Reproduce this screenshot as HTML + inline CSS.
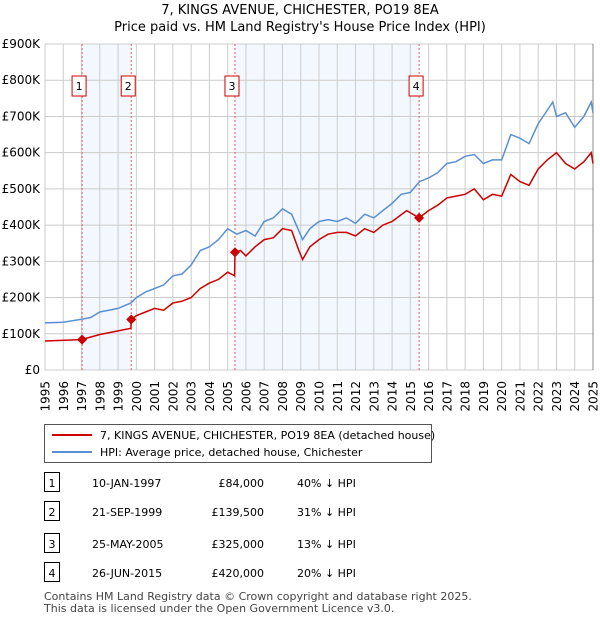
<!DOCTYPE html>
<html><head><meta charset="utf-8"><style>
body{margin:0;background:#fff;font-family:"Liberation Sans","DejaVu Sans",sans-serif;}
svg text{font-family:"DejaVu Sans","Liberation Sans",sans-serif;}
</style></head><body>
<svg width="600" height="620" xmlns="http://www.w3.org/2000/svg">
<g id="root"></g>
</svg>
<script>
const hpiYears=[1995,1996,1997,1997.5,1998,1999,1999.7,2000,2000.5,2001,2001.5,2002,2002.5,2003,2003.5,2004,2004.5,2005,2005.5,2006,2006.5,2007,2007.5,2008,2008.5,2009.1,2009.5,2010,2010.5,2011,2011.5,2012,2012.5,2013,2013.5,2014,2014.5,2015,2015.5,2016,2016.5,2017,2017.5,2018,2018.5,2019,2019.5,2020,2020.5,2021,2021.5,2022,2022.8,2023,2023.5,2024,2024.5,2024.9,2025];
const hpiValues=[130,132,140,145,160,170,185,200,215,225,235,260,265,290,330,340,360,390,375,385,370,410,420,445,430,360,390,410,415,410,420,405,430,420,440,460,485,490,520,530,545,570,575,590,595,570,580,580,650,640,625,680,740,700,710,670,700,740,710];
const redYears=[1995,1997,1998,1999,1999.7,1999.72,2000,2000.5,2001,2001.5,2002,2002.5,2003,2003.5,2004,2004.5,2005,2005.38,2005.4,2005.7,2006,2006.5,2007,2007.5,2008,2008.5,2008.9,2009.1,2009.5,2010,2010.5,2011,2011.5,2012,2012.5,2013,2013.5,2014,2014.8,2015.48,2016,2016.5,2017,2017.5,2018,2018.5,2019,2019.5,2020,2020.5,2021,2021.5,2022,2022.5,2023,2023.5,2024,2024.5,2024.9,2025];
const redValues=[80,84,98,108,115,139.5,150,160,170,165,185,190,200,225,240,250,270,260,325,330,315,340,360,365,390,385,330,305,340,360,375,380,380,370,390,380,400,410,440,420,440,455,475,480,485,500,470,485,480,540,520,510,555,580,600,570,555,575,600,570];
const saleYears=[1997.03,1999.72,2005.4,2015.48];
const saleValues=[84,139.5,325,420];
const saleLabels=["1","2","3","4"];
const yTicks=[0,100,200,300,400,500,600,700,800,900];
const yTickLabels=["£0","£100K","£200K","£300K","£400K","£500K","£600K","£700K","£800K","£900K"];
const xTicks=[1995,1996,1997,1998,1999,2000,2001,2002,2003,2004,2005,2006,2007,2008,2009,2010,2011,2012,2013,2014,2015,2016,2017,2018,2019,2020,2021,2022,2023,2024,2025];

const X0=45,X1=593,Y0=370,Y1=44;
const xs=v=>X0+(v-1995)/30*(X1-X0);
const ys=v=>Y0-v/900*(Y0-Y1);
const NS="http://www.w3.org/2000/svg";
const root=document.getElementById('root');
function mk(t,a,p){const e=document.createElementNS(NS,t);for(const k in a)e.setAttribute(k,a[k]);(p||root).appendChild(e);return e;}

let t=mk('text',{x:300,y:14,'text-anchor':'middle','font-size':13,fill:'#000'});t.textContent="7, KINGS AVENUE, CHICHESTER, PO19 8EA";

t=mk('text',{x:300,y:31,'text-anchor':'middle','font-size':13,fill:'#000'});t.textContent="Price paid vs. HM Land Registry's House Price Index (HPI)";


[[0,1],[2,3]].forEach(([a,b])=>{const r=mk('rect',{x:xs(saleYears[a]),y:Y1,width:xs(saleYears[b])-xs(saleYears[a]),height:Y0-Y1,fill:'#eef3fd',opacity:0.7});
});
xTicks.forEach(v=>{const l=mk('line',{x1:xs(v),x2:xs(v),y1:Y1,y2:Y0,stroke:'#cccccc','stroke-width':1});

const x=xs(v)+4.5,y=381;
const tx=mk('text',{x:x,y:y,'text-anchor':'end','font-size':12,fill:'#000',transform:`rotate(-90 ${x} ${y})`});tx.textContent=v;
});
yTicks.forEach((v,i)=>{const l=mk('line',{x1:X0,x2:X1,y1:ys(v),y2:ys(v),stroke:'#cccccc','stroke-width':1});

const tx=mk('text',{x:40,y:ys(v)+4,'text-anchor':'end','font-size':12,fill:'#000'});tx.textContent=yTickLabels[i];
});
let ax=mk('line',{x1:X1,x2:X1,y1:Y1,y2:Y0,stroke:'#888','stroke-width':1});

saleYears.forEach(v=>{const l=mk('line',{x1:xs(v),x2:xs(v),y1:Y1,y2:Y0,stroke:'#e06060','stroke-width':1,'stroke-dasharray':'2,2'});
});
const pts=(a,b)=>a.map((v,i)=>xs(v).toFixed(1)+','+ys(b[i]).toFixed(1)).join(' ');
let pl=mk('polyline',{points:pts(hpiYears,hpiValues),fill:'none',stroke:'#5b8fd4','stroke-width':1.5});

pl=mk('polyline',{points:pts(redYears,redValues),fill:'none',stroke:'#cc0000','stroke-width':1.5});

saleYears.forEach((v,i)=>{const x=xs(v),y=ys(saleValues[i]);
const d=mk('polygon',{points:`${x},${y-5} ${x+5},${y} ${x},${y+5} ${x-5},${y}`,fill:'#cc0000'});

const g=mk('g',{});
mk('rect',{x:x-10,y:76,width:14,height:20,fill:'#fff',stroke:'#cc0000','stroke-width':1},g);
const tx=mk('text',{x:x-3,y:90,'text-anchor':'middle','font-size':11,fill:'#000'},g);tx.textContent=saleLabels[i];});

const lg=mk('g',{});
mk('rect',{x:44.5,y:424.5,width:387,height:38,fill:'#fff',stroke:'#555'},lg);
mk('line',{x1:52,x2:92,y1:435,y2:435,stroke:'#cc0000','stroke-width':2},lg);
t=mk('text',{x:100,y:439,'font-size':11,fill:'#000'},lg);t.textContent="7, KINGS AVENUE, CHICHESTER, PO19 8EA (detached house)";
mk('line',{x1:52,x2:92,y1:452,y2:452,stroke:'#5b8fd4','stroke-width':2},lg);
t=mk('text',{x:100,y:456,'font-size':11,fill:'#000'},lg);t.textContent="HPI: Average price, detached house, Chichester";

const rows=[["1","10-JAN-1997","£84,000","40% ↓ HPI"],["2","21-SEP-1999","£139,500","31% ↓ HPI"],["3","25-MAY-2005","£325,000","13% ↓ HPI"],["4","26-JUN-2015","£420,000","20% ↓ HPI"]];
const ry=[483,512,544,573];
rows.forEach((r,i)=>{const g=mk('g',{});
const y=ry[i];
mk('rect',{x:44.5,y:y-10.5,width:15,height:19,fill:'#fff',stroke:'#000'},g);
let a=mk('text',{x:52,y:y+4,'text-anchor':'middle','font-size':11},g);a.textContent=r[0];
a=mk('text',{x:92,y:y+4,'font-size':11},g);a.textContent=r[1];
a=mk('text',{x:264,y:y+4,'text-anchor':'end','font-size':11},g);a.textContent=r[2];
a=mk('text',{x:297,y:y+4,'font-size':11},g);a.textContent=r[3];});
t=mk('text',{x:44,y:600,'font-size':11,fill:'#444'});t.textContent="Contains HM Land Registry data © Crown copyright and database right 2025.";

t=mk('text',{x:44,y:612,'font-size':11,fill:'#444'});t.textContent="This data is licensed under the Open Government Licence v3.0.";

</script>
</body></html>
